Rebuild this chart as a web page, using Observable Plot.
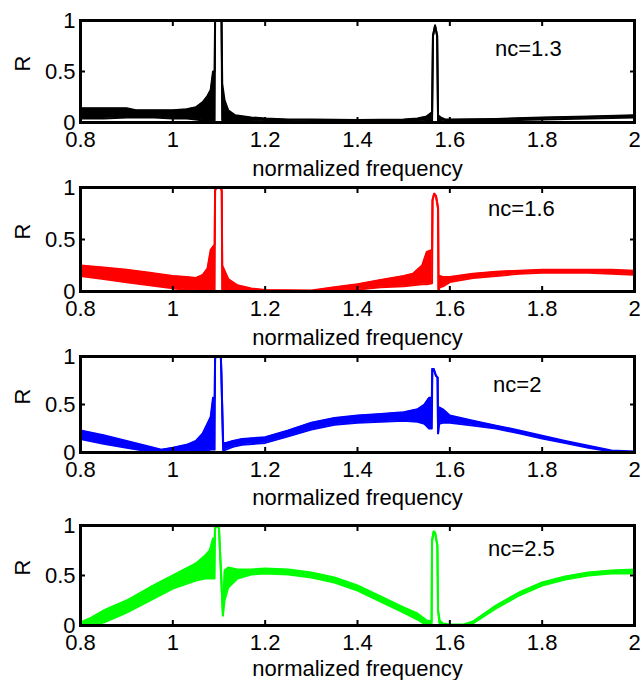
<!DOCTYPE html>
<html>
<head>
<meta charset="utf-8">
<script src="https://cdn.jsdelivr.net/npm/d3@7"></script>
<script src="https://cdn.jsdelivr.net/npm/@observablehq/plot@0.6"></script>
<style>
  body { margin: 0; background: #fff; overflow: hidden; }
  #chart { width: 644px; }
  #chart svg { display: block; overflow: visible; }
</style>
</head>
<body>
<div id="chart"></div>
<script>
// Axis ticks shared by all four panels
const xTicks = [0.8, 1, 1.2, 1.4, 1.6, 1.8, 2];
const xTickLabels = ["0.8", "1", "1.2", "1.4", "1.6", "1.8", "2"];
const yTicks = [0, 0.5, 1];
const yTickLabels = ["0", "0.5", "1"];
const xTitle = "normalized frequency";
const yTitle = "R";

// Reflectance envelopes (lower / upper edge of the fast ripple) per cladding index
const freq13 = [0.8, 0.85, 0.9, 0.92, 0.96, 1.0, 1.03, 1.05, 1.065, 1.075, 1.082, 1.087, 1.0905, 1.0915, 1.1055, 1.107, 1.112, 1.12, 1.135, 1.17, 1.2, 1.25, 1.3, 1.4, 1.5, 1.53, 1.55, 1.5615, 1.5635, 1.568, 1.5725, 1.5745, 1.58, 1.59, 1.6, 1.7, 1.8, 1.9, 2.0];
const low13  = [0.04, 0.04, 0.05, 0.05, 0.05, 0.04, 0.04, 0.03, 0.02, 0.02, 0.02, 0.02, 0.02, 1.0, 1.0, 0.02, 0.02, 0.02, 0.02, 0.015, 0.01, 0.01, 0.015, 0.015, 0.015, 0.015, 0.01, 0.01, 0.85, 0.95, 0.85, 0.01, 0.01, 0.015, 0.015, 0.02, 0.03, 0.04, 0.05];
const high13 = [0.14, 0.14, 0.14, 0.12, 0.12, 0.12, 0.13, 0.15, 0.2, 0.26, 0.32, 0.5, 0.5, 1.0, 1.0, 0.38, 0.22, 0.12, 0.07, 0.05, 0.04, 0.03, 0.03, 0.025, 0.03, 0.04, 0.06, 0.1, 0.85, 0.95, 0.85, 0.07, 0.05, 0.03, 0.03, 0.035, 0.05, 0.06, 0.07];

const freq16 = [0.8, 0.85, 0.9, 0.95, 1.0, 1.03, 1.05, 1.065, 1.075, 1.082, 1.0905, 1.0915, 1.094, 1.103, 1.106, 1.107, 1.112, 1.12, 1.14, 1.17, 1.2, 1.3, 1.35, 1.4, 1.45, 1.5, 1.52, 1.54, 1.55, 1.5615, 1.5625, 1.566, 1.57, 1.5745, 1.5755, 1.578, 1.585, 1.6, 1.65, 1.7, 1.75, 1.8, 1.9, 1.95, 2.0];
const low16  = [0.15, 0.12, 0.09, 0.06, 0.03, 0.02, 0.01, 0.01, 0.01, 0.01, 0.01, 0.97, 1.0, 1.0, 0.97, 0.01, 0.01, 0.01, 0.005, 0.0, 0.0, 0.0, 0.005, 0.02, 0.04, 0.05, 0.06, 0.07, 0.07, 0.08, 0.88, 0.94, 0.92, 0.8, 0.0, 0.04, 0.05, 0.09, 0.13, 0.15, 0.17, 0.18, 0.18, 0.17, 0.16];
const high16 = [0.25, 0.23, 0.21, 0.18, 0.15, 0.14, 0.13, 0.16, 0.22, 0.4, 0.45, 0.97, 1.0, 1.0, 0.97, 0.25, 0.2, 0.12, 0.06, 0.03, 0.015, 0.01, 0.04, 0.07, 0.11, 0.15, 0.17, 0.25, 0.38, 0.4, 0.88, 0.94, 0.92, 0.8, 0.02, 0.15, 0.14, 0.14, 0.17, 0.19, 0.2, 0.21, 0.21, 0.21, 0.2];

const freq20 = [0.8, 0.85, 0.9, 0.95, 0.975, 1.0, 1.03, 1.05, 1.065, 1.075, 1.082, 1.087, 1.0905, 1.0915, 1.094, 1.104, 1.105, 1.109, 1.115, 1.13, 1.15, 1.2, 1.25, 1.3, 1.35, 1.4, 1.45, 1.5, 1.53, 1.545, 1.555, 1.561, 1.562, 1.565, 1.57, 1.5735, 1.5745, 1.577, 1.585, 1.6, 1.65, 1.7, 1.75, 1.8, 1.85, 1.9, 1.95, 2.0];
const low20  = [0.14, 0.09, 0.05, 0.01, 0.0, 0.0, 0.01, 0.02, 0.02, 0.02, 0.03, 0.03, 0.03, 0.98, 1.0, 1.0, 0.85, 0.02, 0.03, 0.06, 0.08, 0.1, 0.17, 0.24, 0.29, 0.31, 0.32, 0.33, 0.32, 0.3, 0.25, 0.25, 0.87, 0.87, 0.8, 0.78, 0.2, 0.3, 0.31, 0.31, 0.28, 0.25, 0.2, 0.145, 0.1, 0.05, 0.01, 0.0];
const high20 = [0.23, 0.18, 0.12, 0.06, 0.03, 0.05, 0.08, 0.12, 0.2, 0.3, 0.37, 0.57, 0.57, 0.98, 1.0, 1.0, 0.85, 0.1, 0.1, 0.12, 0.14, 0.16, 0.23, 0.31, 0.36, 0.385, 0.4, 0.42, 0.45, 0.5, 0.57, 0.57, 0.87, 0.87, 0.8, 0.78, 0.2, 0.47, 0.45, 0.385, 0.33, 0.28, 0.23, 0.175, 0.12, 0.07, 0.02, 0.01];

const freq25 = [0.8, 0.82, 0.85, 0.9, 0.95, 1.0, 1.05, 1.07, 1.08, 1.087, 1.0905, 1.0915, 1.094, 1.097, 1.1, 1.1085, 1.112, 1.12, 1.14, 1.17, 1.2, 1.25, 1.3, 1.35, 1.4, 1.45, 1.5, 1.53, 1.55, 1.5605, 1.5615, 1.565, 1.568, 1.573, 1.5745, 1.578, 1.585, 1.6, 1.63, 1.65, 1.7, 1.75, 1.8, 1.85, 1.9, 1.95, 2.0];
const low25  = [0.0, 0.0, 0.03, 0.13, 0.25, 0.37, 0.45, 0.47, 0.47, 0.47, 0.47, 0.97, 0.995, 0.995, 0.97, 0.1, 0.25, 0.38, 0.47, 0.51, 0.52, 0.51, 0.48, 0.43, 0.35, 0.24, 0.13, 0.06, 0.0, 0.0, 0.85, 0.94, 0.93, 0.8, 0.15, 0.0, 0.0, 0.0, 0.0, 0.02, 0.17, 0.3, 0.4, 0.46, 0.5, 0.52, 0.52];
const high25 = [0.03, 0.07, 0.15, 0.25, 0.38, 0.5, 0.62, 0.7, 0.75, 0.87, 0.87, 0.97, 0.995, 0.995, 0.97, 0.1, 0.55, 0.58, 0.56, 0.56, 0.57, 0.56, 0.53, 0.48, 0.4, 0.29, 0.18, 0.12, 0.05, 0.04, 0.85, 0.94, 0.93, 0.8, 0.15, 0.05, 0.02, 0.01, 0.01, 0.04, 0.2, 0.33, 0.43, 0.49, 0.53, 0.55, 0.56];

const fmtX = d => xTickLabels[xTicks.indexOf(d)];
const fmtY = d => yTickLabels[yTicks.indexOf(d)];

function panel({freq, low, high, color, label, labelX, labelY, marginTop, marginBottom, titleOffset}) {
  const rows = freq.map((f, i) => ({f, lo: low[i], hi: high[i]}));
  return Plot.plot({
    width: 644,
    height: 170,
    marginLeft: 80,
    marginRight: 10,
    marginTop,
    marginBottom,
    style: {fontFamily: "'Liberation Sans', Arial, sans-serif", fontSize: "22px", color: "#000", background: "transparent", overflow: "visible"},
    x: {domain: [0.8, 2]},
    y: {domain: [0, 1]},
    marks: [
      Plot.areaY(rows, {x: "f", y1: "lo", y2: "hi", fill: color}),
      Plot.lineY(rows, {x: "f", y: "lo", stroke: color, strokeWidth: 2}),
      Plot.lineY(rows, {x: "f", y: "hi", stroke: color, strokeWidth: 2}),
      // tick labels
      Plot.axisX(xTicks, {anchor: "bottom", tickSize: 0, tickPadding: 9, tickFormat: fmtX, label: null}),
      Plot.axisY(yTicks, {anchor: "left", tickSize: 0, tickPadding: 5, tickFormat: fmtY, label: null}),
      // inward tick marks on all four sides
      Plot.axisX(xTicks, {anchor: "bottom", tickSize: -5, strokeWidth: 2, fill: "none", label: null}),
      Plot.axisX(xTicks, {anchor: "top", tickSize: -5, strokeWidth: 2, fill: "none", label: null}),
      Plot.axisY(yTicks, {anchor: "left", tickSize: -5, strokeWidth: 2, fill: "none", label: null}),
      Plot.axisY(yTicks, {anchor: "right", tickSize: -5, strokeWidth: 2, fill: "none", label: null}),
      Plot.text([xTitle], {frameAnchor: "bottom", dy: titleOffset, lineAnchor: "bottom", text: d => d}),
      Plot.text([yTitle], {frameAnchor: "left", dx: -57.5, rotate: -90, lineAnchor: "middle", text: d => d}),
      Plot.text([label], {x: labelX, y: labelY, lineAnchor: "middle", text: d => d}),
      Plot.frame({stroke: "#000", strokeWidth: 3})
    ]
  });
}

const chart = document.getElementById("chart");
chart.append(
  panel({freq: freq13, low: low13, high: high13, color: "#000000", label: "nc=1.3", labelX: 1.77, labelY: 0.72, marginTop: 20, marginBottom: 48, titleOffset: 53}),
  panel({freq: freq16, low: low16, high: high16, color: "#ff0000", label: "nc=1.6", labelX: 1.755, labelY: 0.795, marginTop: 17, marginBottom: 49, titleOffset: 53}),
  panel({freq: freq20, low: low20, high: high20, color: "#0000ff", label: "nc=2", labelX: 1.746, labelY: 0.70, marginTop: 16, marginBottom: 58, titleOffset: 52}),
  panel({freq: freq25, low: low25, high: high25, color: "#00ff00", label: "nc=2.5", labelX: 1.755, labelY: 0.77, marginTop: 15, marginBottom: 55, titleOffset: 50})
);
</script>
</body>
</html>
